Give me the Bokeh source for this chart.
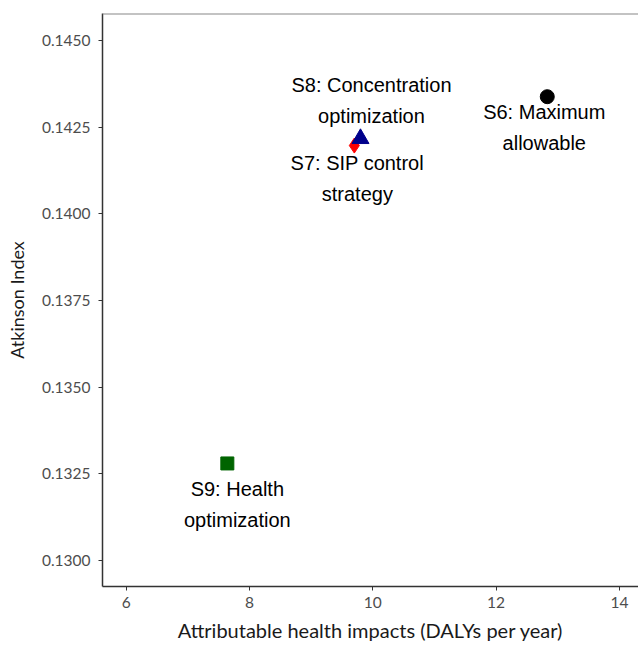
from bokeh.plotting import figure
from bokeh.models import Span, FixedTicker, ColumnDataSource
from bokeh.embed import file_html
from bokeh.resources import INLINE
from bokeh.core.properties import value

# Data
scenarios = ["S6", "S7", "S8", "S9"]
labels = ["S6: Maximum\nallowable", "S7: SIP control\nstrategy",
          "S8: Concentration\noptimization", "S9: Health\noptimization"]
dalys = [12.83, 9.70, 9.80, 7.64]
atkinson = [0.14338, 0.14197, 0.14217, 0.13280]
x_ticks = [6, 8, 10, 12, 14]
y_ticks = [0.1300, 0.1325, 0.1350, 0.1375, 0.1400, 0.1425, 0.1450]

p = figure(width=638, height=645, output_backend="svg", toolbar_location=None,
           x_range=(5.615, 14.31), y_range=(0.12925, 0.14578),
           min_border_left=102, min_border_right=0, min_border_top=13, min_border_bottom=59)
p.xgrid.visible = False
p.ygrid.visible = False
p.outline_line_color = None

for ax in (p.xaxis[0], p.yaxis[0]):
    ax.axis_line_color = "#333333"
    ax.axis_line_width = 1.5
    ax.major_tick_line_color = "#333333"
    ax.major_tick_in = 0
    ax.major_tick_out = 4
    ax.minor_tick_line_color = None
    ax.major_label_text_font = "Lato"
    ax.major_label_text_font_size = "15.5px"
    ax.major_label_text_color = "#4d4d4d"
    ax.axis_label_text_font = "Lato"
    ax.axis_label_text_font_style = "normal"
    ax.axis_label_text_color = "#1a1a1a"

p.xaxis.axis_label_text_font_size = "20px"
p.yaxis.axis_label_text_font_size = "18px"
p.xaxis.ticker = FixedTicker(ticks=x_ticks)
p.yaxis.ticker = FixedTicker(ticks=y_ticks)
p.yaxis.major_label_overrides = {t: f"{t:.4f}" for t in y_ticks}
p.xaxis.axis_label = "Attributable health impacts (DALYs per year)"
p.yaxis.axis_label = "Atkinson Index"
p.xaxis.major_label_standoff = 6
p.xaxis.axis_label_standoff = 7
p.yaxis.major_label_standoff = 8
p.yaxis.axis_label_standoff = 11

p.add_layout(Span(location=0.14578, dimension="width", line_color="#888888", line_width=2))

# markers
p.scatter([dalys[1]], [atkinson[1]], marker="diamond", size=15, color="red")
p.scatter([dalys[2]], [atkinson[2]], marker="triangle", size=17, color="#00008B")
p.scatter([dalys[0]], [atkinson[0]], marker="circle", size=14, color="black")
p.scatter([dalys[3]], [atkinson[3]], marker="square", size=13, color="#006400")

src = ColumnDataSource(dict(x=dalys, y=atkinson, t=labels,
                            dx=[-3, 3, 11, 10], dy=[31, 33, -38, 41]))
p.text("x", "y", text="t", source=src, x_offset="dx", y_offset="dy",
       text_align="center", text_baseline="middle", text_line_height=1.42,
       text_font=value("Liberation Sans"), text_font_size="20px", text_color="black")

open("out.html", "w").write(file_html(p, INLINE))
